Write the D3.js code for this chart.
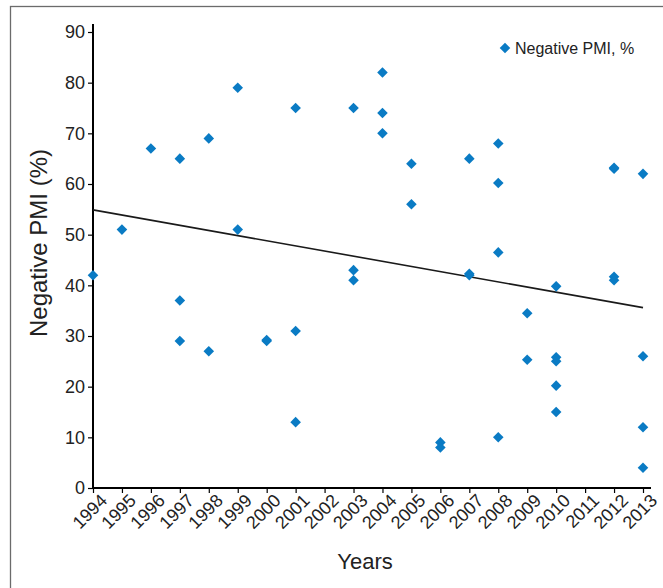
<!DOCTYPE html>
<html>
<head>
<meta charset="utf-8">
<script src="https://cdn.jsdelivr.net/npm/d3@7"></script>
<style>
  html, body { margin: 0; padding: 0; background: #fff; }
  svg { display: block; font-family: "Liberation Sans", Arial, sans-serif; }
</style>
</head>
<body>
<svg width="663" height="588"></svg>
<script>
// categories on the x axis
const years = ['1994', '1995', '1996', '1997', '1998', '1999', '2000', '2001', '2002', '2003',
  '2004', '2005', '2006', '2007', '2008', '2009', '2010', '2011', '2012', '2013']

// one entry per study: year and negative PMI (%)
const pointYears = [
  '1994', '1995', '1996',
  '1997', '1997', '1997',
  '1998', '1998',
  '1999', '1999',
  '2000', '2000',
  '2001', '2001', '2001',
  '2003', '2003', '2003',
  '2004', '2004', '2004',
  '2005', '2005',
  '2006', '2006',
  '2007', '2007', '2007',
  '2008', '2008', '2008', '2008',
  '2009', '2009',
  '2010', '2010', '2010', '2010', '2010',
  '2012', '2012', '2012', '2012',
  '2013', '2013', '2013', '2013'
]
const pointValues = [
  42, 51, 67,
  65, 37, 29,
  69, 27,
  79, 51,
  29, 29.2,
  75, 31, 13,
  75, 43, 41,
  82, 74, 70,
  64, 56,
  9, 8,
  65, 42, 42.3,
  68, 60.2, 46.5, 10,
  34.5, 25.3,
  39.8, 25.8, 25, 20.2, 15,
  63, 63.2, 41.7, 41,
  62, 26, 12, 4
]

// y ticks
const yTicks = [0, 10, 20, 30, 40, 50, 60, 70, 80, 90]

// fitted trend line, start and end
const trendYears = ['1994', '2013']
const trendValues = [54.9, 35.6]

const blue = '#0a7bc4'

const svg = d3.select('svg')

// frame
svg.append('rect')
  .attr('x', 10.5).attr('y', 6.5)
  .attr('width', 700).attr('height', 700)
  .attr('fill', 'none')
  .attr('stroke', '#6b6b6b')
  .attr('stroke-width', 1.3)

const x = d3.scalePoint()
  .domain(years)
  .range([93, 643])

const y = d3.scaleLinear()
  .domain([0, 90])
  .range([488, 32])

// x axis
const xAxis = svg.append('g')
  .attr('transform', `translate(0, ${y(0)})`)
  .call(d3.axisBottom(x).tickSize(5).tickSizeOuter(0))
xAxis.select('.domain')
  .attr('d', `M${x.range()[0]},0H${x.range()[1] + 8}`)
  .attr('stroke-width', 2)
xAxis.selectAll('.tick line').attr('stroke-width', 1.2)
xAxis.selectAll('.tick text')
  .attr('font-size', 18)
  .attr('font-family', '"Liberation Sans", Arial, sans-serif')
  .attr('fill', '#222')
  .attr('text-anchor', 'end')
  .attr('transform', 'translate(3, 2) rotate(-45)')
  .attr('dy', '0.7em')
  .attr('dx', 0)
  .attr('y', 4)

// y axis
const yAxis = svg.append('g')
  .attr('transform', `translate(${x.range()[0]}, 0)`)
  .call(d3.axisLeft(y).tickValues(yTicks).tickSize(5).tickSizeOuter(0).tickPadding(3))
yAxis.select('.domain')
  .attr('d', `M0,${y(0)}V${y(90) - 8}`)
  .attr('stroke-width', 2)
yAxis.selectAll('.tick line').attr('stroke-width', 1.2)
yAxis.selectAll('.tick text')
  .attr('font-size', 18)
  .attr('font-family', '"Liberation Sans", Arial, sans-serif')
  .attr('fill', '#222')

// trend line
svg.append('line')
  .attr('x1', x(trendYears[0])).attr('y1', y(trendValues[0]))
  .attr('x2', x(trendYears[1])).attr('y2', y(trendValues[1]))
  .attr('stroke', '#1a1a1a')
  .attr('stroke-width', 1.6)

// points (diamonds)
const diamond = d3.symbol().type(d3.symbolSquare).size(56)
svg.append('g')
  .selectAll('path')
  .data(pointValues)
  .join('path')
  .attr('d', diamond)
  .attr('transform', (d, i) => `translate(${x(pointYears[i])}, ${y(d)}) rotate(45)`)
  .attr('fill', blue)

// legend
svg.append('path')
  .attr('d', diamond)
  .attr('transform', 'translate(505, 48) rotate(45)')
  .attr('fill', blue)
svg.append('text')
  .attr('x', 515).attr('y', 54)
  .attr('font-size', 16)
  .attr('fill', '#222')
  .text('Negative PMI, %')

// axis titles
svg.append('text')
  .attr('x', 365).attr('y', 569)
  .attr('text-anchor', 'middle')
  .attr('font-size', 22)
  .attr('fill', '#222')
  .text('Years')

svg.append('text')
  .attr('transform', 'translate(47, 243) rotate(-90)')
  .attr('text-anchor', 'middle')
  .attr('font-size', 24)
  .attr('fill', '#222')
  .text('Negative PMI (%)')
</script>
</body>
</html>
